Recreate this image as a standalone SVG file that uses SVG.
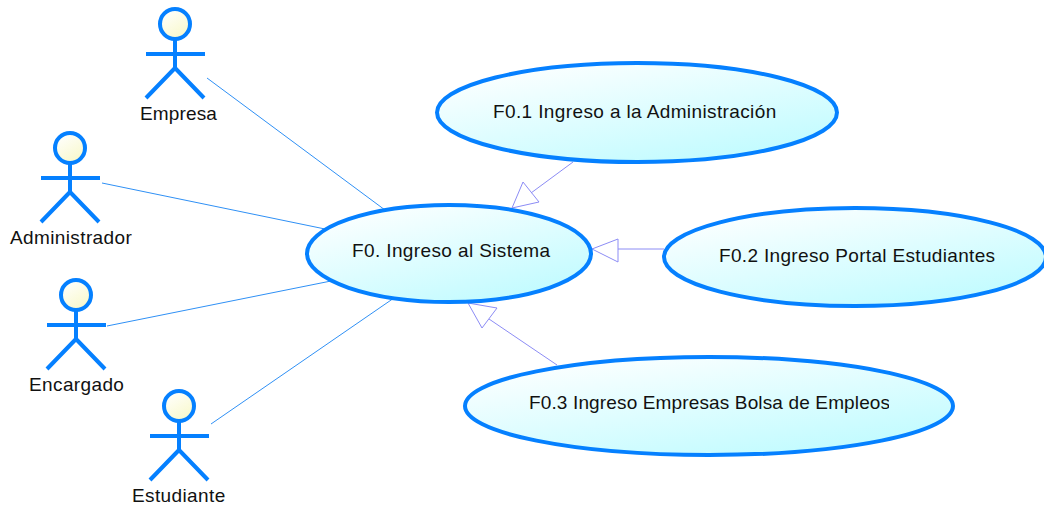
<svg xmlns="http://www.w3.org/2000/svg" width="1044" height="508" viewBox="0 0 1044 508">
<style>
text{font-family:"Liberation Sans",Arial,sans-serif;font-size:19px;fill:#111;letter-spacing:.38px}
.tight{letter-spacing:.14px}
.uc{stroke:#0580ff;stroke-width:4;fill:url(#ug)}
.head{stroke:#0580ff;stroke-width:4;fill:url(#hg)}
.limb{stroke:#0580ff;stroke-width:4;fill:none}
.assoc{stroke:#2f90f5;stroke-width:1;fill:none}
.gen{stroke:#8c8cf5;stroke-width:1;fill:none}
</style>
<defs>
<linearGradient id="ug" x1="0.15" y1="0" x2="0.85" y2="1"><stop offset="0" stop-color="#fff"/><stop offset="1" stop-color="#bdfbff"/></linearGradient>
<linearGradient id="hg" x1="0.2" y1="0" x2="0.8" y2="1"><stop offset="0" stop-color="#fff"/><stop offset="1" stop-color="#f8f8c8"/></linearGradient>
<clipPath id="c3"><rect x="465" y="380" width="424" height="50"/></clipPath>
<g id="fig"><circle class="head" cx="0" cy="0" r="15"/><path class="limb" d="M0 15V44M-29 30H30M-29 74L0 44L29 74"/></g>
</defs>
<g id="connectors">
<path class="assoc" d="M207 78L385 210M102 183L325 229M107 326L331 281M211 424L394 298"/>
<path class="gen" d="M573 162L531 193M512 208L523 182L539 202ZM664 249H618M592 249L618 239V262ZM557 365L489 319M468 303L497 308L482 328Z"/>
</g>
<g id="actor-empresa"><use href="#fig" x="175" y="24"/><text x="140" y="120" class="tight">Empresa</text></g>
<g id="actor-administrador"><use href="#fig" x="70" y="148"/><text x="10" y="244">Administrador</text></g>
<g id="actor-encargado"><use href="#fig" x="76" y="295"/><text x="29" y="391">Encargado</text></g>
<g id="actor-estudiante"><use href="#fig" x="179" y="406"/><text x="132" y="502">Estudiante</text></g>
<g id="uc-f0"><ellipse class="uc" cx="449" cy="253.500" rx="142" ry="48.500"/><text x="352" y="257">F0. Ingreso al Sistema</text></g>
<g id="uc-f01"><ellipse class="uc" cx="637" cy="112.500" rx="200" ry="49.500"/><text x="493" y="118">F0.1 Ingreso a la Administración</text></g>
<g id="uc-f02"><ellipse class="uc" cx="855" cy="257" rx="191" ry="49"/><text x="719" y="262" style="letter-spacing:.33px">F0.2 Ingreso Portal Estudiantes</text></g>
<g id="uc-f03"><ellipse class="uc" cx="709" cy="406" rx="244" ry="49"/><text x="529" y="409" class="tight" clip-path="url(#c3)">F0.3 Ingreso Empresas Bolsa de Empleos</text></g>
</svg>
